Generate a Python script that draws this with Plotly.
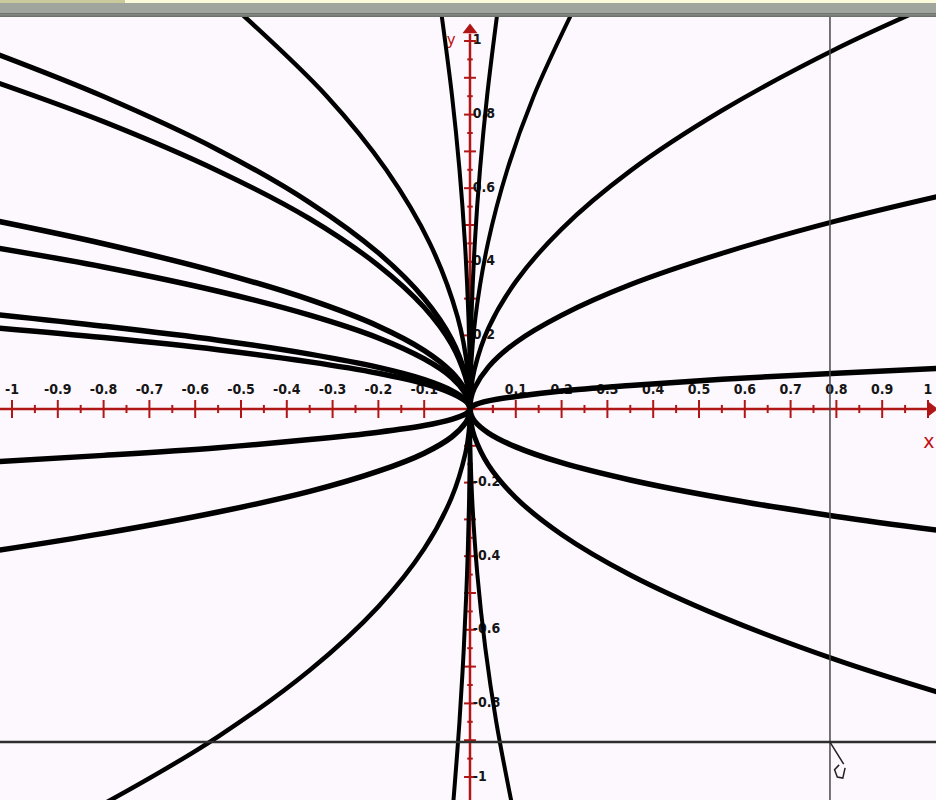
import plotly.graph_objects as go

# ---------------------------------------------------------------
# Sampled points of the curve family (all pass through the origin)
# ---------------------------------------------------------------
# shallow curves on the right half, sampled on a shared x grid
x_right = [0, 0.0025, 0.01, 0.04, 0.1, 0.2, 0.35, 0.55, 0.8, 1.03]
y_right_1 = [0, 0.055, 0.109, 0.219, 0.346, 0.489, 0.647, 0.811, 0.979, 1.110]
y_right_2 = [0, 0.029, 0.057, 0.114, 0.181, 0.255, 0.338, 0.423, 0.511, 0.580]
y_right_3 = [0, 0.005, 0.011, 0.022, 0.034, 0.049, 0.064, 0.081, 0.097, 0.111]
y_right_4 = [0, -0.016, -0.033, -0.065, -0.103, -0.146, -0.193, -0.242, -0.292, -0.331]
y_right_5 = [0, -0.038, -0.076, -0.152, -0.241, -0.341, -0.451, -0.565, -0.682, -0.773]

# shallow curves on the left half
x_left = [0, -0.0025, -0.01, -0.04, -0.1, -0.2, -0.35, -0.55, -0.8, -1.03]
y_left_1 = [0, 0.047, 0.095, 0.190, 0.300, 0.424, 0.561, 0.704, 0.849, 0.963]
y_left_2 = [0, 0.044, 0.087, 0.175, 0.276, 0.390, 0.517, 0.647, 0.781, 0.886]
y_left_3 = [0, 0.025, 0.050, 0.100, 0.159, 0.225, 0.297, 0.372, 0.449, 0.510]
y_left_4 = [0, 0.022, 0.043, 0.086, 0.136, 0.193, 0.255, 0.320, 0.386, 0.437]
y_left_5 = [0, 0.013, 0.025, 0.050, 0.080, 0.113, 0.149, 0.187, 0.225, 0.256]
y_left_6 = [0, 0.011, 0.022, 0.043, 0.069, 0.097, 0.128, 0.161, 0.194, 0.220]
y_left_7 = [0, -0.007, -0.014, -0.028, -0.045, -0.063, -0.083, -0.105, -0.126, -0.143]
y_left_8 = [0, -0.019, -0.038, -0.076, -0.120, -0.169, -0.224, -0.280, -0.338, -0.384]
y_left_9 = [0, -0.060, -0.120, -0.240, -0.380, -0.537, -0.710, -0.890, -1.073, -1.218]

# steep curves, sampled on shared y grids
y_up = [0, 0.1, 0.25, 0.45, 0.65, 0.85, 1.07]
y_down = [0, -0.1, -0.25, -0.45, -0.65, -0.85, -1.07]
x_steep_right_1 = [0, 0.0005, 0.0032, 0.0105, 0.0218, 0.0373, 0.0591]
x_steep_right_2 = [0, 0.0019, 0.0120, 0.0390, 0.0813, 0.1390, 0.2202]
x_steep_left_1 = [0, -0.0005, -0.0034, -0.0110, -0.0229, -0.0391, -0.0619]
x_steep_left_2 = [0, -0.0043, -0.0271, -0.0877, -0.1829, -0.3127, -0.4955]
x_steep_right_down = [0, 0.0008, 0.0050, 0.0161, 0.0335, 0.0573, 0.0909]
x_steep_left_down = [0, -0.0003, -0.0020, -0.0065, -0.0135, -0.0230, -0.0365]

# ---------------------------------------------------------------
# Axis ticks and labels
# ---------------------------------------------------------------
x_tick_vals = [-1, -0.9, -0.8, -0.7, -0.6, -0.5, -0.4, -0.3, -0.2, -0.1,
               0.1, 0.2, 0.3, 0.4, 0.5, 0.6, 0.7, 0.8, 0.9, 1]
x_tick_text = ["-1", "-0.9", "-0.8", "-0.7", "-0.6", "-0.5", "-0.4", "-0.3", "-0.2", "-0.1",
               "0.1", "0.2", "0.3", "0.4", "0.5", "0.6", "0.7", "0.8", "0.9", "1"]
y_major_vals = [-1, -0.9, -0.8, -0.7, -0.6, -0.5, -0.4, -0.3, -0.2, -0.1,
                0.1, 0.2, 0.3, 0.4, 0.5, 0.6, 0.7, 0.8, 0.9, 1]
y_label_vals = [-1, -0.8, -0.6, -0.4, -0.2, 0.2, 0.4, 0.6, 0.8, 1]
y_label_text = ["-1", "-0.8", "-0.6", "-0.4", "-0.2", "0.2", "0.4", "0.6", "0.8", "1"]

# visible window
X_RANGE = [-1.0262, 1.0175]
Y_RANGE = [-1.0625, 1.0652]
CURSOR_X = 0.786
CURSOR_Y = -0.905

AXIS_RED = "#b01616"
LABEL_FONT = "Liberation Sans Narrow, DejaVu Sans Condensed, Liberation Sans"

fig = go.Figure()

# --- red coordinate axes through the origin ---
fig.add_trace(go.Scatter(x=[X_RANGE[0], 1.0], y=[0, 0], mode="lines",
                         line=dict(color=AXIS_RED, width=2.5), hoverinfo="skip"))
fig.add_trace(go.Scatter(x=[0, 0], y=[Y_RANGE[0], 1.02], mode="lines",
                         line=dict(color=AXIS_RED, width=2.5), hoverinfo="skip"))

# x-axis ticks (major every 0.1, minor halfway)
x_minor = [v - 0.05 for v in x_tick_vals if v > -1] + [0.05]
tx, ty = [], []
for v in x_tick_vals:
    tx += [v, v, None]
    ty += [-0.0245, 0.0245, None]
for v in x_minor:
    tx += [v, v, None]
    ty += [-0.011, 0.011, None]
# y-axis ticks
y_minor = [v - 0.05 for v in y_major_vals if v > -1] + [0.05]
for v in y_major_vals:
    tx += [-0.013, 0.013, None]
    ty += [v, v, None]
for v in y_minor:
    tx += [-0.006, 0.006, None]
    ty += [v, v, None]
fig.add_trace(go.Scatter(x=tx, y=ty, mode="lines",
                         line=dict(color=AXIS_RED, width=2), hoverinfo="skip"))

# arrow heads
fig.add_trace(go.Scatter(x=[1.0075], y=[0], mode="markers",
                         marker=dict(symbol="triangle-right", size=13, color=AXIS_RED,
                                     line=dict(width=0)), hoverinfo="skip"))
fig.add_trace(go.Scatter(x=[0], y=[1.03], mode="markers",
                         marker=dict(symbol="triangle-up", size=13, color=AXIS_RED,
                                     line=dict(width=0)), hoverinfo="skip"))

# tick labels
fig.add_trace(go.Scatter(x=x_tick_vals, y=[0.051] * len(x_tick_vals), mode="text",
                         text=[f"<b>{t}</b>" for t in x_tick_text], textposition="middle center",
                         textfont=dict(family=LABEL_FONT, size=14, color="#151515"),
                         hoverinfo="skip"))
fig.add_trace(go.Scatter(x=[0.006] * len(y_label_vals), y=y_label_vals, mode="text",
                         text=[f"<b>{t}</b>" for t in y_label_text], textposition="middle right",
                         textfont=dict(family=LABEL_FONT, size=14, color="#151515"),
                         hoverinfo="skip"))

# axis names
fig.add_trace(go.Scatter(x=[1.002], y=[-0.092], mode="text", text=["x"],
                         textfont=dict(family="DejaVu Sans", size=19, color="#c01010"),
                         hoverinfo="skip"))
fig.add_trace(go.Scatter(x=[-0.041], y=[1.0], mode="text", text=["y"],
                         textfont=dict(family="DejaVu Sans", size=15, color="#c01010"),
                         hoverinfo="skip"))

# --- the curve family ---
def curve(xs, ys, w):
    fig.add_trace(go.Scatter(x=xs, y=ys, mode="lines", line_shape="spline",
                             line=dict(color="black", width=w), hoverinfo="skip"))

for ys, w in [(y_right_1, 4.5), (y_right_2, 5), (y_right_3, 5.5),
              (y_right_4, 5.5), (y_right_5, 5)]:
    curve(x_right, ys, w)
for ys, w in [(y_left_1, 5), (y_left_2, 5), (y_left_3, 5.5), (y_left_4, 5.5),
              (y_left_5, 5.5), (y_left_6, 5.5), (y_left_7, 5.5), (y_left_8, 5.5),
              (y_left_9, 4.5)]:
    curve(x_left, ys, w)
for xs, w in [(x_steep_right_1, 4), (x_steep_right_2, 4),
              (x_steep_left_1, 4), (x_steep_left_2, 4.5)]:
    curve(xs, y_up, w)
for xs in [x_steep_right_down, x_steep_left_down]:
    curve(xs, y_down, 4)

# --- cursor crosshair and pointer ---
shapes = [
    dict(type="line", xref="x", yref="paper", x0=CURSOR_X, x1=CURSOR_X, y0=0, y1=1,
         line=dict(color="#484848", width=1.5)),
    dict(type="line", xref="paper", yref="y", x0=0, x1=1, y0=CURSOR_Y, y1=CURSOR_Y,
         line=dict(color="#2e2e2e", width=2.5)),
    dict(type="path", xref="x", yref="y",
         path=f"M {CURSOR_X} {CURSOR_Y} L {CURSOR_X + 0.030} {CURSOR_Y - 0.060} "
              f"M {CURSOR_X + 0.020} {CURSOR_Y - 0.062} L {CURSOR_X + 0.010} {CURSOR_Y - 0.075} "
              f"L {CURSOR_X + 0.016} {CURSOR_Y - 0.095} L {CURSOR_X + 0.028} {CURSOR_Y - 0.098} "
              f"L {CURSOR_X + 0.033} {CURSOR_Y - 0.070}",
         line=dict(color="#222222", width=1.5)),
]

# --- window title band above the plot ---
band = 17 / 783
shapes += [
    dict(type="rect", xref="paper", yref="paper", x0=0, x1=1, y0=1, y1=1 + band,
         fillcolor="#a0a59d", line=dict(width=0), layer="above"),
    dict(type="rect", xref="paper", yref="paper", x0=0, x1=1, y0=1, y1=1 + 4 / 783,
         fillcolor="#6e726c", line=dict(width=0), layer="above"),
    dict(type="rect", xref="paper", yref="paper", x0=0, x1=1, y0=1 + 1.5 / 783, y1=1 + 3 / 783,
         fillcolor="#858983", line=dict(width=0), layer="above"),
    dict(type="rect", xref="paper", yref="paper", x0=0, x1=1, y0=1 + 14 / 783, y1=1 + band,
         fillcolor="#fbfbdc", line=dict(width=0), layer="above"),
    dict(type="rect", xref="paper", yref="paper", x0=0, x1=125 / 936, y0=1 + 14 / 783, y1=1 + band,
         fillcolor="#c9c99b", line=dict(width=0), layer="above"),
]

fig.update_layout(
    width=936, height=800,
    margin=dict(l=0, r=0, t=17, b=0, pad=0),
    paper_bgcolor="#a0a59d",
    plot_bgcolor="#fdf8fd",
    showlegend=False,
    xaxis=dict(range=X_RANGE, visible=False, fixedrange=True),
    yaxis=dict(range=Y_RANGE, visible=False, fixedrange=True),
    shapes=shapes,
)

fig.write_html("out.html")
